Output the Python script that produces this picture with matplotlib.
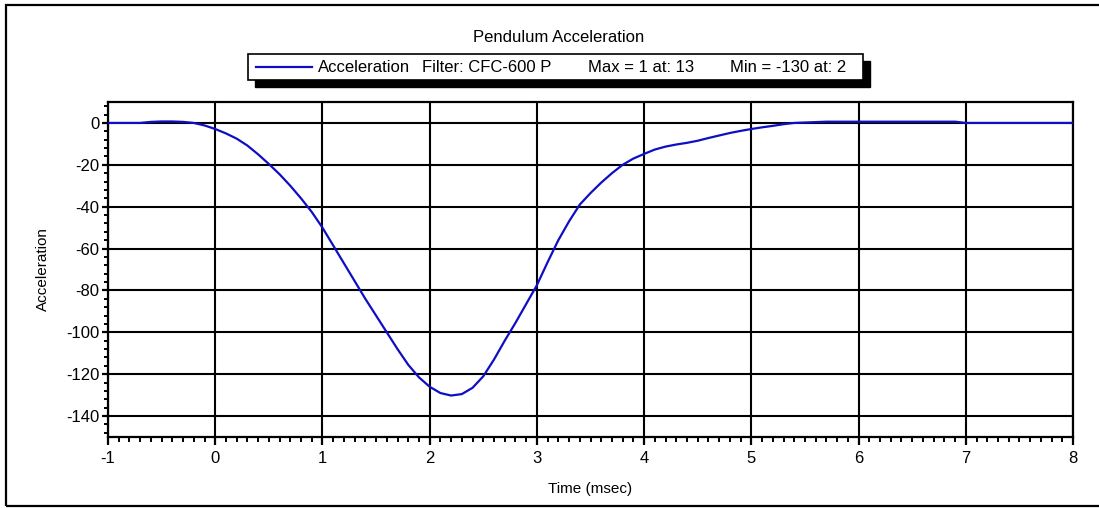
import matplotlib
matplotlib.use("Agg")
import matplotlib.pyplot as plt
from matplotlib.patches import Rectangle
from matplotlib.lines import Line2D
from matplotlib.ticker import MultipleLocator

plt.rcParams['font.family'] = ['Liberation Sans', 'DejaVu Sans']
plt.rcParams['axes.unicode_minus'] = False

# Data
time_ms = [-1.0, -0.7, -0.6, -0.5, -0.4, -0.3, -0.2, -0.1, 0.0, 0.1, 0.2, 0.3, 0.4,
           0.5, 0.6, 0.7, 0.8, 0.9, 1.0, 1.1, 1.2, 1.3, 1.4, 1.5, 1.6, 1.7, 1.8,
           1.9, 2.0, 2.1, 2.2, 2.3, 2.4, 2.5, 2.6, 2.7, 2.8, 2.9, 3.0, 3.1, 3.2,
           3.3, 3.4, 3.5, 3.6, 3.7, 3.8, 3.9, 4.0, 4.1, 4.2, 4.3, 4.4, 4.5, 4.6,
           4.7, 4.8, 4.9, 5.0, 5.1, 5.2, 5.3, 5.4, 5.7, 6.9, 7.0, 8.0]
accel = [0.0, 0.0, 0.5, 0.7, 0.7, 0.5, 0.0, -1.2, -2.9, -5.0, -7.5, -10.8, -15.0,
         -19.6, -24.5, -30.0, -36.0, -42.5, -50.0, -58.5, -67.0, -75.5, -84.0, -92.0,
         -100.0, -108.0, -115.5, -121.5, -126.0, -129.0, -130.2, -129.5, -126.5,
         -121.0, -113.0, -104.0, -95.5, -86.5, -77.5, -66.5, -56.0, -47.0, -39.0,
         -33.5, -28.5, -24.0, -20.0, -17.0, -14.8, -12.7, -11.3, -10.3, -9.5, -8.5,
         -7.2, -6.0, -4.8, -3.8, -2.9, -2.1, -1.4, -0.6, 0.0, 0.6, 0.6, 0.0, 0.0]

x_ticks = [-1, 0, 1, 2, 3, 4, 5, 6, 7, 8]
y_ticks = [0, -20, -40, -60, -80, -100, -120, -140]

legend_texts = ["Acceleration", "Filter: CFC-600 P", "Max = 1 at: 13", "Min = -130 at: 2"]

W, H = 1099, 508
fig = plt.figure(figsize=(W / 100, H / 100), dpi=100)
ax = fig.add_axes([108 / W, 1 - 437 / H, (1073 - 108) / W, (437 - 102) / H])

line_color = '#0e0ec4'
ax.plot(time_ms, accel, color=line_color, linewidth=1.6, zorder=3)

ax.set_xlim(-1, 8)
ax.set_ylim(-150, 10)
ax.set_xticks(x_ticks)
ax.set_yticks(y_ticks)
ax.xaxis.set_minor_locator(MultipleLocator(0.1))
ax.yaxis.set_minor_locator(MultipleLocator(4))
ax.grid(True, which='major', color='black', linewidth=1.5)
ax.set_axisbelow(True)
for s in ax.spines.values():
    s.set_linewidth(1.6)

ax.tick_params(axis='x', which='major', length=6, width=1.6, pad=4, labelsize=12)
ax.tick_params(axis='x', which='minor', length=3.5, width=1.4)
ax.tick_params(axis='y', which='major', length=4, width=1.6, pad=2, labelsize=12)
ax.tick_params(axis='y', which='minor', length=3, width=1.4)

ax.set_xlabel("Time (msec)", fontsize=11)
ax.xaxis.set_label_coords(0.5, -0.135)
ax.set_ylabel("Acceleration", fontsize=11)
ax.yaxis.set_label_coords(-0.06, 0.5)

# outer frame
fig.patches.append(Rectangle((6 / W, 2 / H), 1.0, 1 - 7 / H, transform=fig.transFigure,
                             fill=False, edgecolor='black', linewidth=1.6))

# title
fig.text(559 / W, 1 - 38 / H, "Pendulum Acceleration", ha='center', va='center', fontsize=12)

# legend box with black shadow
bx0, bx1, by0, by1 = 248, 863, 54, 80
fig.patches.append(Rectangle(((bx0 + 7) / W, 1 - (by1 + 7) / H), (bx1 - bx0) / W, (by1 - by0) / H,
                             transform=fig.transFigure, facecolor='black', edgecolor='black'))
fig.patches.append(Rectangle((bx0 / W, 1 - by1 / H), (bx1 - bx0) / W, (by1 - by0) / H,
                             transform=fig.transFigure, facecolor='white', edgecolor='black',
                             linewidth=1.2))
ly = 1 - 67 / H
fig.lines.append(Line2D([256 / W, 312 / W], [ly, ly], transform=fig.transFigure,
                        color=line_color, linewidth=1.6))
for xp, txt in zip([318, 422, 588, 730], legend_texts):
    fig.text(xp / W, ly, txt, ha='left', va='center', fontsize=12)

fig.savefig("out.png", dpi=100)
